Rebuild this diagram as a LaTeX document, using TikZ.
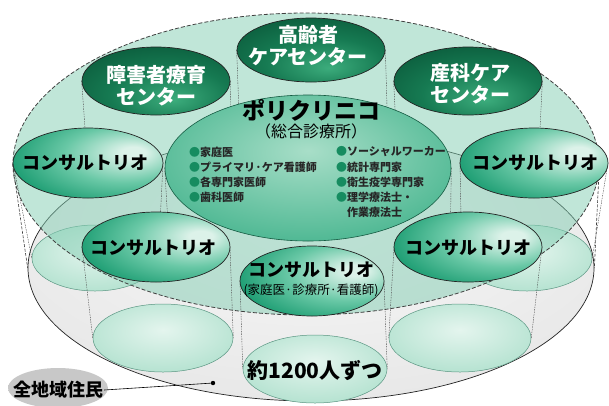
\documentclass[tikz,border=0pt]{standalone}
\usepackage{fontspec}
\newfontfamily\jp{Noto Sans CJK JP}
\usetikzlibrary{shapes.geometric}
\definecolor{dgA}{RGB}{60,172,124}
\definecolor{dgB}{RGB}{22,122,82}
\definecolor{dgC}{RGB}{6,78,50}
\definecolor{cnA}{RGB}{220,242,233}
\definecolor{cnB}{RGB}{105,200,166}
\definecolor{cnC}{RGB}{16,150,106}
\definecolor{cnD}{RGB}{8,120,84}
\definecolor{plA}{RGB}{168,222,200}
\definecolor{plB}{RGB}{92,190,155}
\definecolor{plC}{RGB}{22,156,114}
\definecolor{flA}{RGB}{228,245,238}
\definecolor{flB}{RGB}{180,226,208}
\definecolor{flC}{RGB}{126,200,172}
\definecolor{grA}{RGB}{248,248,248}
\definecolor{grB}{RGB}{230,230,230}
\definecolor{grC}{RGB}{204,204,204}
\definecolor{lbA}{RGB}{200,200,200}
\definecolor{lbB}{RGB}{255,255,255}
\definecolor{discC}{RGB}{130,205,178}
\definecolor{bul}{RGB}{22,140,96}
\definecolor{edge}{RGB}{35,35,35}
\definecolor{fledge}{RGB}{90,150,130}
\definecolor{poledge}{RGB}{20,90,65}
\pgfdeclareradialshading{dkshade}{\pgfpoint{6bp}{-14bp}}{color(0bp)=(dgA); color(20bp)=(dgB); color(45bp)=(dgC); color(80bp)=(dgC)}
\pgfdeclareradialshading{cnshade}{\pgfpoint{16bp}{8bp}}{color(0bp)=(cnA); color(4bp)=(cnA); color(20bp)=(cnB); color(38bp)=(cnC); color(80bp)=(cnD)}
\pgfdeclareradialshading{plshade}{\pgfpoint{0bp}{6bp}}{color(0bp)=(plA); color(25bp)=(plB); color(48bp)=(plC); color(80bp)=(plC)}
\pgfdeclareradialshading{flshade}{\pgfpoint{0bp}{6bp}}{color(0bp)=(flA); color(30bp)=(flB); color(50bp)=(flC); color(80bp)=(flC)}
\pgfdeclareradialshading{grshade}{\pgfpoint{0bp}{10bp}}{color(0bp)=(grA); color(35bp)=(grB); color(50bp)=(grC); color(80bp)=(grC)}
\pgfdeclareradialshading{lbshade}{\pgfpoint{0bp}{0bp}}{color(0bp)=(lbA); color(30bp)=(lbA); color(50bp)=(lbB); color(80bp)=(lbB)}
\tikzset{
  ell/.style={ellipse, inner sep=0pt},
  darkell/.style={ell, shading=dkshade, draw=edge, line width=0.7pt},
  consell/.style={ell, shading=cnshade, draw=edge, line width=0.7pt},
  floorell/.style={ell, shading=flshade, draw=fledge, line width=0.5pt},
  vline/.style={draw=black!70, line width=0.4pt, dash pattern=on 1.5pt off 1pt},
  sideline/.style={draw=black!75, line width=0.6pt, dash pattern=on 3pt off 1.5pt},
  toplbl/.style={font=\jp\bfseries\fontsize{20}{22}\selectfont, text=white, align=center, inner sep=0pt},
  conslbl/.style={font=\jp\bfseries\fontsize{18}{20}\selectfont, text=black, inner sep=0pt},
  itemlbl/.style={font=\jp\bfseries\fontsize{11}{13}\selectfont, text=black!85, anchor=west, inner sep=0pt},
}
\newcommand{\bdot}{\textcolor{bul}{●}}
\begin{document}
\begin{tikzpicture}[x=1pt,y=-1pt]
\useasboundingbox (0,0) rectangle (609,405);
% gray floor of the whole area
\node[ell, shading=grshade, draw=edge, line width=0.7pt, minimum width=566pt, minimum height=266pt] (floor) at (311,268) {};
% floor projections
\node[floorell, minimum width=126pt, minimum height=66pt] (fL) at (95,258) {};
\node[floorell, minimum width=130pt, minimum height=66pt] (fR) at (527,258) {};
\node[floorell, minimum width=140pt, minimum height=68pt] (fLL) at (163,338) {};
\node[floorell, minimum width=142pt, minimum height=68pt] (fLR) at (460,338) {};
\node[floorell, minimum width=144pt, minimum height=68pt] (fC) at (315,369) {};
\node[font=\jp\bfseries\fontsize{21}{23}\selectfont, inner sep=0pt] (fCt) at (315,370) {約1200人ずつ};
% transparent top disc
\node[ell, fill=discC, fill opacity=0.5, draw=black!75, line width=0.8pt, dash pattern=on 4pt off 2pt, minimum width=586pt, minimum height=302pt] (disc) at (306,164) {};
\draw[sideline] (disc.west) -- (floor.west);
\draw[sideline] (disc.east) -- (floor.east);
% helper coordinates for hidden floor ends
\coordinate (korLf) at (240,140);
\coordinate (korRf) at (388,140);
\coordinate (shoLf) at (88,170);
\coordinate (shoRf) at (232,170);
\coordinate (sanLf) at (398,170);
\coordinate (sanRf) at (538,170);
\coordinate (polLf) at (170,258);
\coordinate (polRf) at (450,258);
% upper row
\node[darkell, minimum width=148pt, minimum height=64pt] (kor) at (311,50) {};
\draw[vline] (kor.west) -- (korLf);
\draw[vline] (kor.east) -- (korRf);
\node[toplbl] at (308,46) {高齢者\\ケアセンター};
\node[darkell, minimum width=148pt, minimum height=68pt] (sho) at (156,81) {};
\node[darkell, minimum width=148pt, minimum height=68pt] (san) at (468,81) {};
\draw[vline] (sho.west) -- (shoLf);
\draw[vline] (sho.east) -- (shoRf);
\draw[vline] (san.west) -- (sanLf);
\draw[vline] (san.east) -- (sanRf);
\node[toplbl] at (156,86) {障害者療育\\センター};
\node[toplbl] at (470,84) {産科ケア\\センター};
% side consultorios
\draw[vline] (88-75,163) -- (fL.west);
\draw[vline] (88+75,163) -- (fL.east);
\draw[vline] (534-74,163) -- (fR.west);
\draw[vline] (534+74,163) -- (fR.east);
\node[consell, minimum width=150pt, minimum height=70pt] (cL) at (88,163) {};
\node[consell, minimum width=148pt, minimum height=70pt] (cR) at (534,163) {};
\node[conslbl] at (85,163) {コンサルトリオ};
\node[conslbl] at (535,163) {コンサルトリオ};
% polyclinic
\node[ell, shading=plshade, draw=poledge, line width=0.6pt, minimum width=286pt, minimum height=146pt] (pol) at (308,168) {};
\draw[vline] (pol.west) -- (polLf);
\draw[vline] (pol.east) -- (polRf);
\node[font=\jp\bfseries\fontsize{23}{25}\selectfont, inner sep=0pt] at (311,110) {ポリクリニコ};
\node[font=\jp\fontsize{16}{18}\selectfont, inner sep=0pt] at (311,131) {（総合診療所）};
\node[itemlbl] at (189,152) {\bdot 家庭医};
\node[itemlbl] at (189,167) {\bdot プライマリ·ケア看護師};
\node[itemlbl] at (189,182) {\bdot 各専門家医師};
\node[itemlbl] at (189,197) {\bdot 歯科医師};
\node[itemlbl] at (336,152) {\bdot ソーシャルワーカー};
\node[itemlbl] at (336,167) {\bdot 統計専門家};
\node[itemlbl] at (336,182) {\bdot 衛生疫学専門家};
\node[itemlbl] at (336,197) {\bdot 理学療法士・};
\node[itemlbl] at (347,212) {作業療法士};
% lower consultorios
\draw[vline] (156-74,247) -- (fLL.west);
\draw[vline] (156+74,247) -- (fLL.east);
\draw[vline] (468-74,247) -- (fLR.west);
\draw[vline] (468+74,247) -- (fLR.east);
\node[consell, minimum width=148pt, minimum height=70pt] (cLL) at (156,247) {};
\node[consell, minimum width=148pt, minimum height=70pt] (cLR) at (468,247) {};
\node[conslbl] at (153,248) {コンサルトリオ};
\node[conslbl] at (468,248) {コンサルトリオ};
\draw[vline] (312-72,281) -- (fC.west);
\draw[vline] (312+72,281) -- (fC.east);
\node[consell, minimum width=144pt, minimum height=70pt] (cC) at (312,281) {};
\node[conslbl] at (311,270) {コンサルトリオ};
\node[font=\jp\fontsize{12.5}{14}\selectfont, inner sep=0pt] at (311,290) {(家庭医·診療所·看護師)};
% residents label
\node[ell, shading=lbshade, minimum width=100pt, minimum height=40pt] (lbg) at (58,388) {};
\node[font=\jp\bfseries\fontsize{18}{20}\selectfont, inner sep=1pt] (res) at (58,390) {全地域住民};
\coordinate (dot) at (213,383);
\draw[line width=0.6pt] (res.east) -- (dot);
\fill (dot) circle (2.2pt);
\end{tikzpicture}
\end{document}
